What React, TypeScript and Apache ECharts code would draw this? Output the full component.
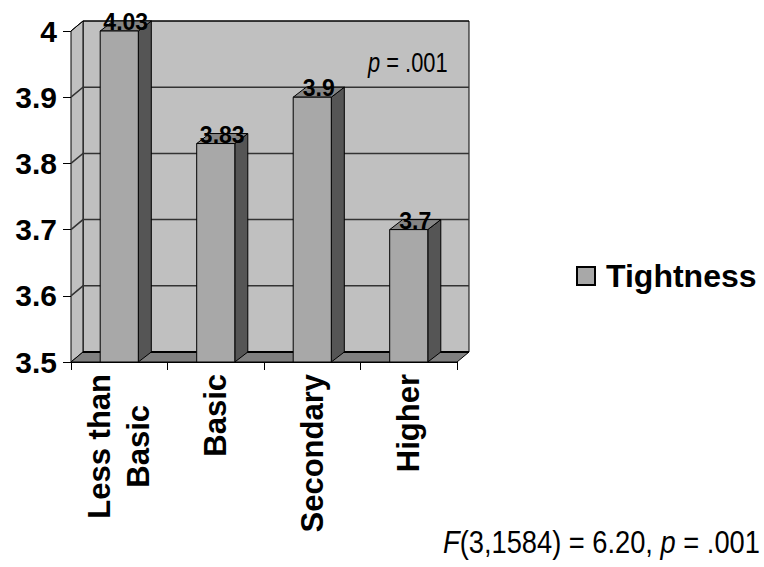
import React, { useEffect, useRef } from "react";
import * as echarts from "echarts";

const CATEGORIES = ["Less than\nBasic", "Basic", "Secondary", "Higher"];
const SERIES_NAME = "Tightness";
const TIGHTNESS = [4.03, 3.83, 3.9, 3.7];
const Y_MIN = 3.5;
const Y_MAX = 4;
const Y_STEP = 0.1;
const Y_TICKS = [3.5, 3.6, 3.7, 3.8, 3.9, 4];

const DX = 12;
const DY = -10;
const BDX = 13;
const FONT = "'Liberation Sans', Arial, Helvetica, sans-serif";

export default function App() {
  const ref = useRef<HTMLDivElement>(null);
  useEffect(() => {
    if (!ref.current) return;
    const chart = echarts.init(ref.current, undefined, { renderer: "svg" });

    const wallsRender = (params: any, api: any) => {
      const cs = params.coordSys;
      const L = cs.x, T = cs.y, R = cs.x + cs.width, B = cs.y + cs.height;
      const children: any[] = [];
      children.push({
        type: "rect",
        shape: { x: L + DX, y: T + DY, width: cs.width, height: cs.height },
        style: { fill: "#C0C0C0", stroke: "#000", lineWidth: 1 },
      });
      children.push({
        type: "polygon",
        shape: { points: [[L, T], [L + DX, T + DY], [L + DX, B + DY], [L, B]] },
        style: { fill: "#C0C0C0", stroke: "#000", lineWidth: 1 },
      });
      Y_TICKS.forEach((t) => {
        if (t === Y_MIN) return;
        const p = api.coord([0, t]);
        children.push({
          type: "polyline",
          shape: { points: [[L, p[1]], [L + DX, p[1] + DY], [R + DX, p[1] + DY]] },
          style: { stroke: t === Y_MAX ? "#000" : "#333", lineWidth: t === Y_MAX ? 1 : 1.5, fill: "none" },
        });
      });
      children.push({
        type: "polygon",
        shape: { points: [[L, B], [R, B], [R + DX, B + DY], [L + DX, B + DY]] },
        style: { fill: "#808080", stroke: "#000", lineWidth: 1 },
      });
      children.push({
        type: "line",
        shape: { x1: L + DX, y1: B + DY, x2: R + DX, y2: B + DY },
        style: { stroke: "#000", lineWidth: 2 },
      });
      return { type: "group", children };
    };

    const barRender = (params: any, api: any) => {
      const idx = api.value(0);
      const v = api.value(1);
      const top = Math.min(v, Y_MAX);
      const pT = api.coord([idx, top]);
      const pB = api.coord([idx, Y_MIN]);
      const bw = api.size([1, 0])[0] * 0.395;
      const x0 = pT[0] - bw / 2;
      const x1 = pT[0] + bw / 2;
      const yT = pT[1];
      const yB = pB[1];
      return {
        type: "group",
        children: [
          {
            type: "polygon",
            shape: { points: [[x1, yT], [x1 + BDX, yT + DY], [x1 + BDX, yB + DY], [x1, yB]] },
            style: { fill: "#555555", stroke: "#000", lineWidth: 1 },
          },
          {
            type: "polygon",
            shape: { points: [[x0, yT], [x1, yT], [x1 + BDX, yT + DY], [x0 + BDX, yT + DY]] },
            style: { fill: "#858585", stroke: "#000", lineWidth: 1 },
          },
          {
            type: "rect",
            shape: { x: x0, y: yT, width: bw, height: yB - yT },
            style: { fill: "#A8A8A8", stroke: "#000", lineWidth: 1 },
          },
          {
            type: "text",
            style: {
              text: String(v),
              x: pT[0] + BDX / 2,
              y: yT + DY + 1,
              align: "center",
              verticalAlign: "middle",
              font: `bold 23px ${FONT}`,
              fill: "#000",
            },
          },
        ],
      };
    };

    chart.setOption({
      animation: false,
      backgroundColor: "#fff",
      grid: { left: 71, top: 31, width: 386, height: 331, containLabel: false },
      legend: {
        data: [SERIES_NAME],
        left: 576,
        top: 260,
        padding: 0,
        icon: "rect",
        itemWidth: 18,
        itemHeight: 18,
        itemGap: 10,
        textStyle: { fontSize: 32, fontWeight: "bold", color: "#000", fontFamily: FONT, padding: [0, 0, 0, 6] },
      },
      xAxis: {
        type: "category",
        data: CATEGORIES,
        boundaryGap: true,
        axisLine: { show: true, lineStyle: { color: "#000", width: 1 } },
        axisTick: { show: true, length: 8, lineStyle: { color: "#000" } },
        axisLabel: {
          rotate: 90,
          margin: 12,
          interval: 0,
          formatter: (v: string) => v.split("\n").map((s) => `{c|${s}}`).join("\n"),
          rich: {
            c: { fontSize: 31, fontWeight: "bold", fontFamily: FONT, color: "#000", lineHeight: 39, align: "center" },
          },
        },
        splitLine: { show: false },
      },
      yAxis: {
        type: "value",
        min: Y_MIN,
        max: Y_MAX,
        interval: Y_STEP,
        axisLine: { show: true, lineStyle: { color: "#000", width: 1 } },
        axisTick: { show: true, length: 8, lineStyle: { color: "#000" } },
        axisLabel: { fontSize: 30, fontWeight: "bold", fontFamily: FONT, color: "#000", margin: 14 },
        splitLine: { show: false },
      },
      series: [
        {
          name: "walls",
          type: "custom",
          renderItem: wallsRender,
          data: [[0, Y_MIN]],
          encode: { x: 0, y: 1 },
          clip: false,
          silent: true,
          z: 1,
        },
        {
          name: SERIES_NAME,
          type: "custom",
          renderItem: barRender,
          data: TIGHTNESS.map((v, i) => [i, v]),
          encode: { x: 0, y: 1 },
          clip: false,
          itemStyle: { color: "#A8A8A8", borderColor: "#000", borderWidth: 1 },
          z: 2,
        },
      ],
      graphic: [
        {
          type: "text",
          x: 368,
          y: 49,
          scaleX: 0.81,
          z: 10,
          style: {
            text: "{i|p} = .001",
            font: `27px ${FONT}`,
            fill: "#000",
            rich: { i: { fontStyle: "italic", fontSize: 27, fontFamily: FONT } },
          },
        },
        {
          type: "text",
          x: 443,
          y: 527,
          scaleX: 0.88,
          z: 10,
          style: {
            text: "{i|F}(3,1584) = 6.20, {i|p} = .001",
            font: `31px ${FONT}`,
            fill: "#000",
            rich: { i: { fontStyle: "italic", fontSize: 31, fontFamily: FONT } },
          },
        },
      ],
    });
    return () => chart.dispose();
  }, []);
  return <div ref={ref} style={{ position: "absolute", left: 0, top: 0, width: 764, height: 567 }} />;
}
